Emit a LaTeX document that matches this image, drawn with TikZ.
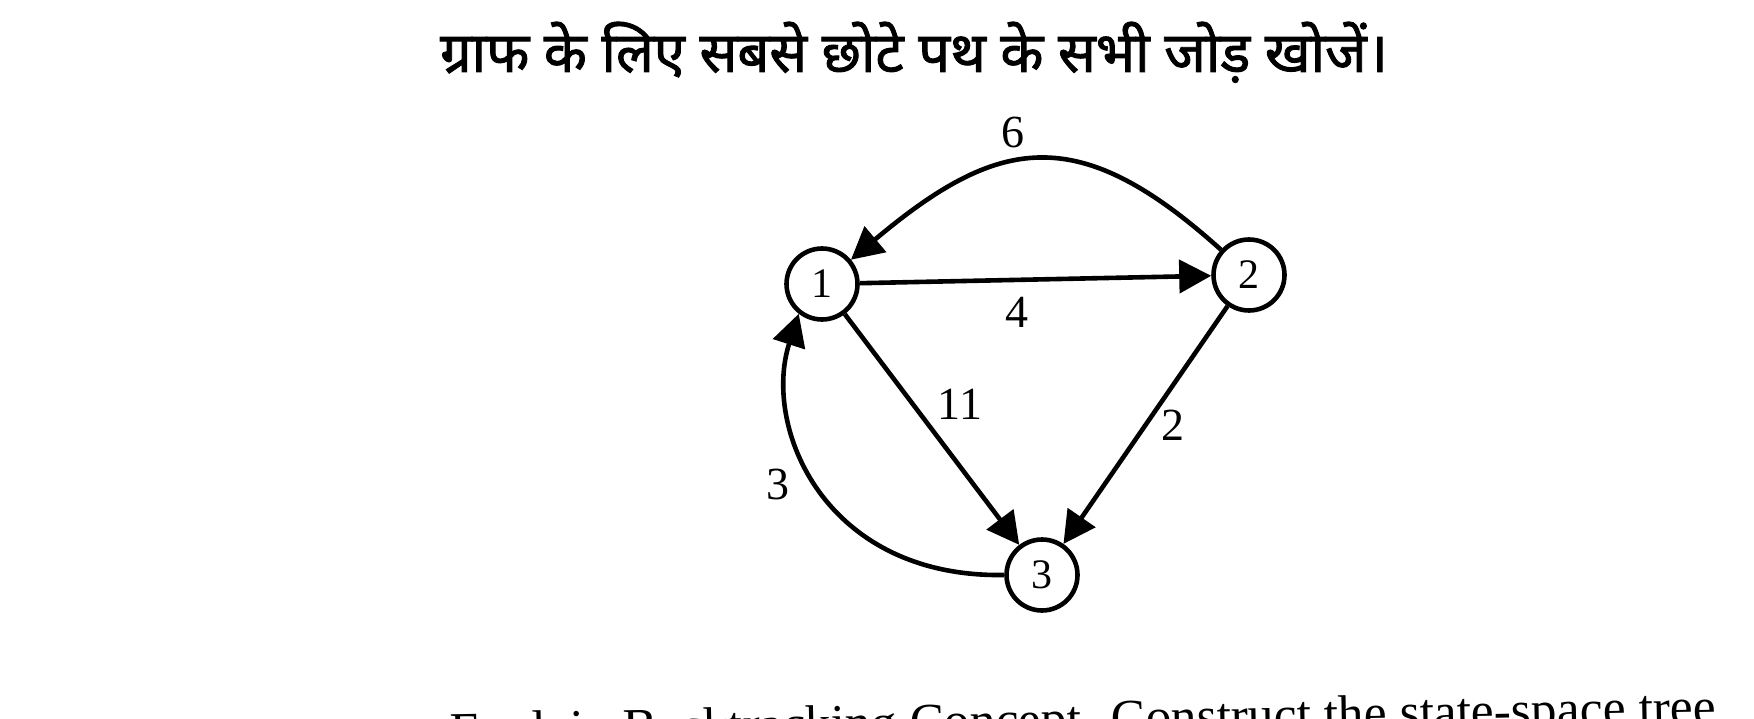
\documentclass[tikz,border=0pt]{standalone}
\usepackage{graphicx}
\usepackage{fontspec}
\setmainfont{Liberation Serif}
\newfontfamily\hindi[Script=Devanagari,FakeBold=1.6]{Noto Sans}
\usetikzlibrary{arrows.meta}
\begin{document}
\begin{tikzpicture}[x=0.5pt,y=0.5pt,
  vertex/.style={circle,draw,line width=2.3pt,minimum size=35.5pt,inner sep=0pt,font=\fontsize{21}{23}\selectfont},
  wlabel/.style={inner sep=0pt,font=\fontsize{23}{25}\selectfont},
  edge/.style={line width=2.3pt,-{Triangle[length=16pt,width=16.5pt]}}]
\useasboundingbox (0,0) rectangle (1754,718);
\clip (0,0) rectangle (1754,718);
\fill[white] (0,0) rectangle (1754,718);
% title
\node[inner sep=0pt, anchor=base, font=\hindi\fontsize{28}{32}\selectfont] (title) at (914,646) {ग्राफ के लिए सबसे छोटे पथ के सभी जोड़ खोजें।};
% vertices
\node[vertex] (n1) at (822,434) {1};
\node[vertex] (n2) at (1249,443) {2};
\node[vertex] (n3) at (1042,143) {3};
% edges
\draw[edge] (n1) -- (n2);
\draw[edge] (n2) to[out=138,in=40,looseness=1.33] (n1);
\draw[edge] (n1) -- (n3);
\draw[edge] (n2) -- (n3);
\draw[edge] (n3.west) .. controls (825,140) and (762,290) .. (n1.232);
% weights
\node[wlabel] (l6) at (1013,585) {6};
\node[wlabel] (l4) at (1017,406) {4};
\node[wlabel] (l11) at (960,314) {11};
\node[wlabel] (l2) at (1173,293) {2};
\node[wlabel] (l3) at (778,234) {3};
% next question (cut off at the bottom edge, as in the scan)
\node[inner sep=0pt, anchor=north west, rotate=1.1] (q) at (449,6) {\resizebox{633pt}{!}{Explain Backtracking Concept. Construct the state-space tree}};
\end{tikzpicture}
\end{document}
